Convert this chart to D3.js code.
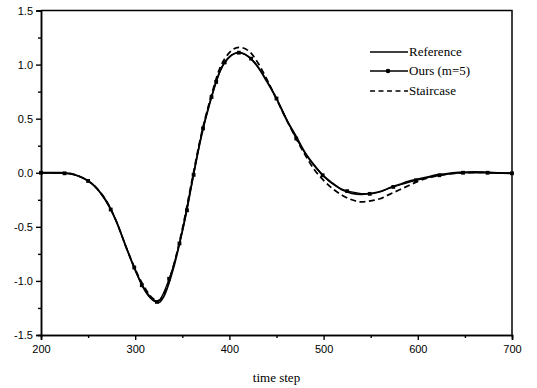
<!DOCTYPE html>
<html>
<head>
<meta charset="utf-8">
<script src="https://cdn.jsdelivr.net/npm/d3@7"></script>
<style>
  body { margin: 0; background: #fff; }
  svg { display: block; }
  .tick-label { font-family: "Liberation Sans", Arial, sans-serif; font-size: 11px; }
  .serif { font-family: "Liberation Serif", "Times New Roman", serif; }
</style>
</head>
<body>
<div id="chart"></div>
<script>
// time steps of the reference / staircase curves
var steps = [200, 210, 220, 230, 240, 250, 260, 270, 280, 290, 300, 310, 320, 325, 330, 340, 350, 360, 370, 380,
             390, 400, 410, 420, 430, 440, 450, 460, 470, 480, 490, 500, 510, 520, 530, 540, 550, 560, 570, 580,
             590, 600, 610, 620, 630, 640, 650, 660, 670, 680, 690, 700];
var reference = [0, 0, 0, -0.005, -0.03, -0.075, -0.15, -0.27, -0.45, -0.68, -0.9, -1.08, -1.18, -1.2, -1.15, -0.9, -0.54, -0.1, 0.33, 0.67,
                 0.94, 1.07, 1.11, 1.075, 0.98, 0.84, 0.686, 0.5, 0.35, 0.19, 0.07, -0.03, -0.1, -0.16, -0.19, -0.2, -0.19, -0.175, -0.14, -0.11,
                 -0.08, -0.06, -0.04, -0.02, -0.01, 0, 0.005, 0.008, 0.005, 0, -0.003, -0.005];
var staircase = [0, 0, 0, -0.005, -0.03, -0.075, -0.15, -0.27, -0.45, -0.68, -0.89, -1.06, -1.17, -1.18, -1.13, -0.88, -0.52, -0.08, 0.35, 0.69,
                 0.97, 1.11, 1.16, 1.13, 1.02, 0.86, 0.68, 0.5, 0.33, 0.17, 0.03, -0.07, -0.15, -0.21, -0.25, -0.27, -0.26, -0.24, -0.2, -0.16,
                 -0.12, -0.08, -0.05, -0.03, -0.015, -0.005, 0, 0.004, 0.004, 0, -0.003, -0.005];

// "Ours (m=5)" sample points (markers)
var oursSteps = [200, 225, 250, 274, 299, 307, 323, 336, 347, 355, 362, 372, 381, 386, 395, 410, 423, 450, 471, 499,
                 525, 549, 574, 598, 623, 648, 674, 700];
var oursValues = [0, -0.005, -0.076, -0.34, -0.876, -1.04, -1.194, -0.98, -0.654, -0.347, -0.02, 0.41, 0.7, 0.84, 1.02, 1.11, 1.055, 0.686, 0.316, -0.023,
                  -0.17, -0.195, -0.131, -0.07, -0.023, 0, 0, -0.005];

var xTicks = [200, 300, 400, 500, 600, 700];
var yTicks = [-1.5, -1.0, -0.5, 0.0, 0.5, 1.0, 1.5];
var legendNames = ["Reference", "Ours (m=5)", "Staircase"];

var width = 537, height = 388;
var margin = {left: 41, right: 25, top: 10.5, bottom: 53};

// plain hyphen for negatives, like the original
var fmt = d3.formatLocale({decimal: ".", thousands: ",", grouping: [3], currency: ["", ""], minus: "-"});

var svg = d3.select("#chart").append("svg")
  .attr("width", width)
  .attr("height", height);

var x = d3.scaleLinear().domain([200, 700]).range([margin.left, width - margin.right]);
var y = d3.scaleLinear().domain([-1.5, 1.5]).range([height - margin.bottom, margin.top]);

// frame (top and right)
svg.append("path")
  .attr("d", "M" + x(200) + "," + y(1.5) + "H" + x(700) + "V" + y(-1.5))
  .attr("fill", "none")
  .attr("stroke", "#000")
  .attr("stroke-width", 1.5);

// x axis
var xAxis = svg.append("g").attr("transform", "translate(0," + y(-1.5) + ")");
xAxis.call(d3.axisBottom(x).tickValues(xTicks).tickSize(5).tickFormat(fmt.format("d")));
xAxis.append("g").call(d3.axisBottom(x).tickValues([250, 350, 450, 550, 650]).tickSize(3).tickFormat(""));
xAxis.selectAll(".domain").attr("stroke-width", 1.5);
xAxis.selectAll(".tick line").attr("stroke-width", 1.4);
xAxis.selectAll(".tick text").attr("class", "tick-label").attr("dy", "0.9em").attr("fill", "#000");

// y axis
var yAxis = svg.append("g").attr("transform", "translate(" + x(200) + ",0)");
yAxis.call(d3.axisLeft(y).tickValues(yTicks).tickSize(5).tickFormat(fmt.format(".1f")));
yAxis.append("g").call(d3.axisLeft(y).tickValues([-1.25, -0.75, -0.25, 0.25, 0.75, 1.25]).tickSize(3).tickFormat(""));
yAxis.selectAll(".domain").attr("stroke-width", 1.5);
yAxis.selectAll(".tick line").attr("stroke-width", 1.4);
yAxis.selectAll(".tick text").attr("class", "tick-label").attr("x", -8).attr("fill", "#000");

// x label
svg.append("text")
  .attr("class", "serif")
  .attr("x", x(450))
  .attr("y", 382)
  .attr("text-anchor", "middle")
  .attr("font-size", 13)
  .text("time step");

var line = d3.line()
  .x(function(d) { return x(d[0]); })
  .y(function(d) { return y(d[1]); })
  .curve(d3.curveMonotoneX);

svg.append("path")
  .datum(d3.zip(steps, staircase))
  .attr("d", line)
  .attr("fill", "none")
  .attr("stroke", "#000")
  .attr("stroke-width", 1.7)
  .attr("stroke-dasharray", "6,3.5");

svg.append("path")
  .datum(d3.zip(steps, reference))
  .attr("d", line)
  .attr("fill", "none")
  .attr("stroke", "#000")
  .attr("stroke-width", 1.8);

svg.append("path")
  .datum(d3.zip(oursSteps, oursValues))
  .attr("d", line)
  .attr("fill", "none")
  .attr("stroke", "#000")
  .attr("stroke-width", 1.3);

svg.selectAll("rect.marker")
  .data(d3.zip(oursSteps, oursValues))
  .enter()
  .append("rect")
  .attr("class", "marker")
  .attr("x", function(d) { return x(d[0]) - 1.9; })
  .attr("y", function(d) { return y(d[1]) - 1.9; })
  .attr("width", 3.8)
  .attr("height", 3.8)
  .attr("fill", "#000");

// legend
var legendY = [52, 71, 91];
var legend = svg.append("g");
legendNames.forEach(function(name, i) {
  var ln = legend.append("line")
    .attr("x1", 370).attr("x2", 408)
    .attr("y1", legendY[i]).attr("y2", legendY[i])
    .attr("stroke", "#000")
    .attr("stroke-width", 1.4);
  if (i === 2) ln.attr("stroke-dasharray", "5,3.5");
  if (i === 1) {
    legend.append("circle").attr("cx", 388).attr("cy", legendY[i]).attr("r", 2.3).attr("fill", "#000");
  }
  legend.append("text")
    .attr("class", "serif")
    .attr("x", 409)
    .attr("y", legendY[i])
    .attr("dy", "0.32em")
    .attr("font-size", 13)
    .text(name);
});
</script>
</body>
</html>
